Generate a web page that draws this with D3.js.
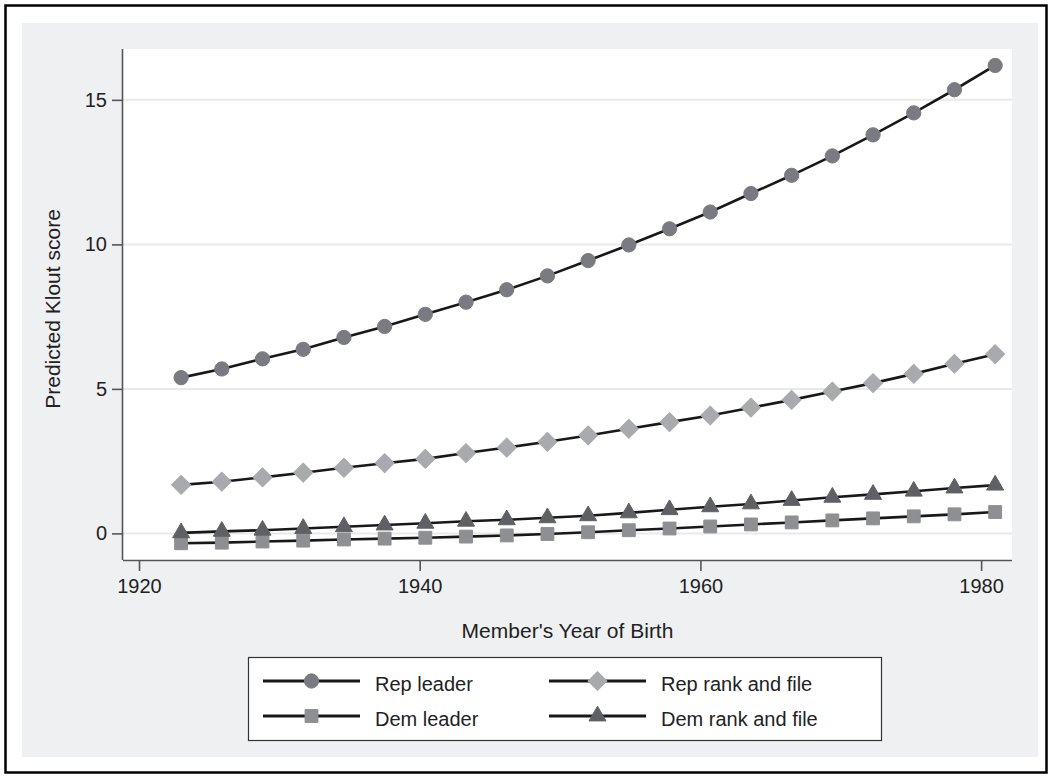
<!DOCTYPE html>
<html>
<head>
<meta charset="utf-8">
<script src="https://cdn.jsdelivr.net/npm/d3@7"></script>
<style>
  body { margin: 0; background: #fff; }
  text { font-family: "Liberation Sans", Arial, Helvetica, sans-serif; fill: #222; }
</style>
</head>
<body>
<div id="chart"></div>
<script>
// birth years of the prediction points
var years = d3.range(21).map(function(i) { return 1923 + i * 2.9; });

var repLeader = [5.39, 5.69, 6.04, 6.37, 6.78, 7.16, 7.58, 8.00, 8.43, 8.91, 9.44,
                 9.98, 10.54, 11.12, 11.76, 12.39, 13.06, 13.79, 14.55, 15.35, 16.19];
var repRank   = [1.68, 1.79, 1.94, 2.10, 2.27, 2.43, 2.58, 2.78, 2.97, 3.17, 3.39,
                 3.62, 3.85, 4.08, 4.35, 4.62, 4.91, 5.20, 5.52, 5.87, 6.20];
var demLeader = [-0.34, -0.32, -0.28, -0.25, -0.21, -0.18, -0.15, -0.11, -0.07, -0.02, 0.04,
                 0.11, 0.17, 0.24, 0.31, 0.38, 0.45, 0.52, 0.59, 0.66, 0.74];
var demRank   = [0.02, 0.07, 0.11, 0.17, 0.23, 0.29, 0.35, 0.42, 0.47, 0.54, 0.61,
                 0.71, 0.82, 0.92, 1.02, 1.14, 1.25, 1.35, 1.46, 1.57, 1.67];

var xTicks = [1920, 1940, 1960, 1980];
var yTicks = [0, 5, 10, 15];

var series = [
  {name: "Rep leader",        values: repLeader, symbol: d3.symbolCircle,  size: 160, color: "#7a7b80", rotate: 0},
  {name: "Rep rank and file", values: repRank,   symbol: d3.symbolSquare,  size: 180, color: "#a9aaae", rotate: 45},
  {name: "Dem leader",        values: demLeader, symbol: d3.symbolSquare,  size: 165, color: "#8e8f93", rotate: 0},
  {name: "Dem rank and file", values: demRank,   symbol: d3.symbolTriangle, size: 125, color: "#5f6064", rotate: 0}
];

var W = 1051, H = 777;
var plot = {left: 123, right: 1012, top: 49, bottom: 560};

var svg = d3.select("#chart").append("svg")
    .attr("width", W)
    .attr("height", H);

// outer frame and graph region
svg.append("rect")
    .attr("x", 5.5).attr("y", 5.5)
    .attr("width", 1041).attr("height", 767)
    .attr("fill", "#fff").attr("stroke", "#000").attr("stroke-width", 2.5);
svg.append("rect")
    .attr("x", 22).attr("y", 23)
    .attr("width", 1016).attr("height", 734)
    .attr("fill", "#eff0f2");
svg.append("rect")
    .attr("x", plot.left).attr("y", plot.top)
    .attr("width", plot.right - plot.left).attr("height", plot.bottom - plot.top)
    .attr("fill", "#fff");

var x = d3.scaleLinear()
    .domain([1918.86, 1982.2])
    .range([plot.left, plot.right]);
var y = d3.scaleLinear()
    .domain([-0.92, 16.76])
    .range([plot.bottom, plot.top]);

// gridlines
svg.append("g").selectAll("line")
    .data(yTicks)
    .enter().append("line")
    .attr("x1", plot.left).attr("x2", plot.right)
    .attr("y1", function(d) { return y(d); })
    .attr("y2", function(d) { return y(d); })
    .attr("stroke", "#e8e9eb").attr("stroke-width", 2);

// axes
var xAxis = svg.append("g")
    .attr("transform", "translate(0," + plot.bottom + ")")
    .call(d3.axisBottom(x).tickValues(xTicks).tickFormat(d3.format("d")).tickSize(11).tickPadding(8));
var yAxis = svg.append("g")
    .attr("transform", "translate(" + plot.left + ",0)")
    .call(d3.axisLeft(y).tickValues(yTicks).tickSize(11).tickPadding(5));

[xAxis, yAxis].forEach(function(a) {
  a.select(".domain").attr("stroke", "#555").attr("stroke-width", 1.6);
  a.selectAll(".tick line").attr("stroke", "#555").attr("stroke-width", 1.6);
  a.selectAll(".tick text").attr("font-size", 20).attr("fill", "#222")
    .attr("font-family", "Liberation Sans, Arial, sans-serif");
});
// d3 draws the domain with outer ticks; keep the plain line only
xAxis.select(".domain").attr("d", "M" + plot.left + ",0.5H" + plot.right);
yAxis.select(".domain").attr("d", "M-0.5," + plot.top + "V" + plot.bottom);

// axis titles
svg.append("text")
    .attr("x", (plot.left + plot.right) / 2)
    .attr("y", 638)
    .attr("text-anchor", "middle")
    .attr("font-size", 21)
    .text("Member's Year of Birth");
svg.append("text")
    .attr("transform", "translate(60,309) rotate(-90)")
    .attr("text-anchor", "middle")
    .attr("font-size", 21)
    .text("Predicted Klout score");

// lines and markers
var line = d3.line()
    .x(function(d, i) { return x(years[i]); })
    .y(function(d) { return y(d); });

series.forEach(function(s) {
  svg.append("path")
      .datum(s.values)
      .attr("d", line)
      .attr("fill", "none")
      .attr("stroke", "#1a1718")
      .attr("stroke-width", 2.6);
});

series.forEach(function(s) {
  var sym = d3.symbol().type(s.symbol).size(s.size);
  svg.append("g").selectAll("path")
      .data(s.values)
      .enter().append("path")
      .attr("d", sym)
      .attr("transform", function(d, i) {
        return "translate(" + x(years[i]) + "," + y(d) + ") rotate(" + s.rotate + ")";
      })
      .attr("fill", s.color)
      .attr("stroke", s.color)
      .attr("stroke-width", 1)
      .attr("stroke-linejoin", "round");
});

// legend
var legend = svg.append("g");
legend.append("rect")
    .attr("x", 248.5).attr("y", 657.5)
    .attr("width", 633).attr("height", 83)
    .attr("fill", "#fff").attr("stroke", "#333").attr("stroke-width", 1.2);

var legendPos = [
  {x: 263, y: 681}, {x: 549, y: 681},
  {x: 263, y: 716}, {x: 549, y: 716}
];

series.forEach(function(s, i) {
  var p = legendPos[i];
  legend.append("line")
      .attr("x1", p.x).attr("x2", p.x + 97)
      .attr("y1", p.y).attr("y2", p.y)
      .attr("stroke", "#1a1718").attr("stroke-width", 3);
  legend.append("path")
      .attr("d", d3.symbol().type(s.symbol).size(s.size)())
      .attr("transform", "translate(" + (p.x + 48.5) + "," + p.y + ") rotate(" + s.rotate + ")")
      .attr("fill", s.color)
      .attr("stroke", s.color)
      .attr("stroke-width", 1)
      .attr("stroke-linejoin", "round");
  legend.append("text")
      .attr("x", p.x + 112)
      .attr("y", p.y + 10)
      .attr("font-size", 20)
      .text(s.name);
});
</script>
</body>
</html>
